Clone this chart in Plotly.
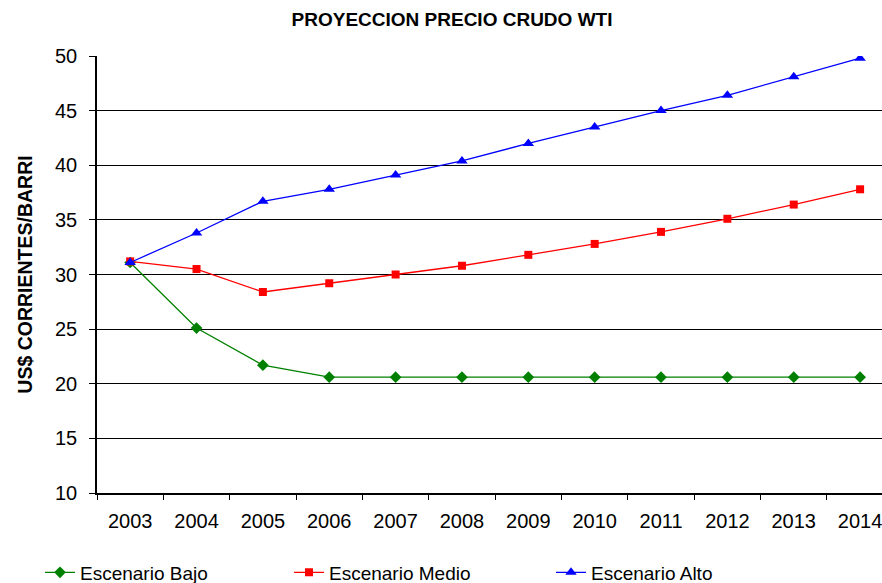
# Proyeccion precio crudo WTI

import plotly.graph_objects as go

anios = ['2003', '2004', '2005', '2006', '2007', '2008', '2009', '2010', '2011', '2012', '2013', '2014']
escenario_bajo = [31.1, 25.1, 21.7, 20.6, 20.6, 20.6, 20.6, 20.6, 20.6, 20.6, 20.6, 20.6]
escenario_medio = [31.2, 30.5, 28.4, 29.2, 30.0, 30.8, 31.8, 32.8, 33.9, 35.1, 36.4, 37.8]
escenario_alto = [31.1, 33.8, 36.7, 37.8, 39.1, 40.4, 42.0, 43.5, 45.0, 46.4, 48.1, 49.8]

fuente = 'Liberation Sans, Arial, sans-serif'
ancho, alto = 882, 583

fig = go.Figure()
fig.add_trace(go.Scatter(x=anios, y=escenario_bajo, name='Escenario Bajo', mode='lines+markers',
                         line=dict(color='#008000', width=1.3),
                         marker=dict(symbol='diamond', size=9, color='#008000'),
                         legend='legend'))
fig.add_trace(go.Scatter(x=anios, y=escenario_medio, name='Escenario Medio', mode='lines+markers',
                         line=dict(color='#FF0000', width=1.3),
                         marker=dict(symbol='square', size=8, color='#FF0000'),
                         legend='legend2'))
fig.add_trace(go.Scatter(x=anios, y=escenario_alto, name='Escenario Alto', mode='lines+markers',
                         line=dict(color='#0000FF', width=1.3),
                         marker=dict(symbol='triangle-up', size=10, color='#0000FF'),
                         legend='legend3'))

leyenda = dict(orientation='h', xref='container', xanchor='left',
               yref='container', y=10.5 / alto, yanchor='middle',
               font=dict(size=19), itemclick=False, bgcolor='rgba(0,0,0,0)')

fig.update_layout(
    width=ancho, height=alto,
    margin=dict(l=97, r=0, t=56, b=90, autoexpand=False),
    plot_bgcolor='white', paper_bgcolor='white',
    font=dict(family=fuente, size=20, color='black'),
    title=dict(text='<b>PROYECCION PRECIO CRUDO WTI</b>', x=452 / ancho, xanchor='center',
               y=1 - 19.5 / alto, yanchor='middle', font=dict(size=19)),
    showlegend=True,
    legend=dict(leyenda, x=40 / ancho),
    legend2=dict(leyenda, x=289 / ancho),
    legend3=dict(leyenda, x=551 / ancho),
)
fig.update_xaxes(type='category', range=[-0.5, 11.33], showgrid=False,
                 showline=True, linecolor='black', linewidth=1.5,
                 ticks='outside', tickson='boundaries', ticklen=5, tickcolor='black',
                 ticklabelstandoff=9, tickfont=dict(size=20))
fig.update_yaxes(range=[10, 50], dtick=5, showgrid=True, gridcolor='black', gridwidth=1,
                 showline=True, linecolor='black', linewidth=1.5,
                 ticks='outside', ticklen=6, tickcolor='black', zeroline=False,
                 ticklabelstandoff=8, tickfont=dict(size=20),
                 title=dict(text='<b>US$ CORRIENTES/BARRI</b>', font=dict(size=19.5), standoff=17))

# quitar el margen de 8px del body para que la figura llene la ventana
fig.write_html("out.html", config={'displayModeBar': False},
               post_script="document.body.style.margin='0';document.body.style.overflow='hidden';")
